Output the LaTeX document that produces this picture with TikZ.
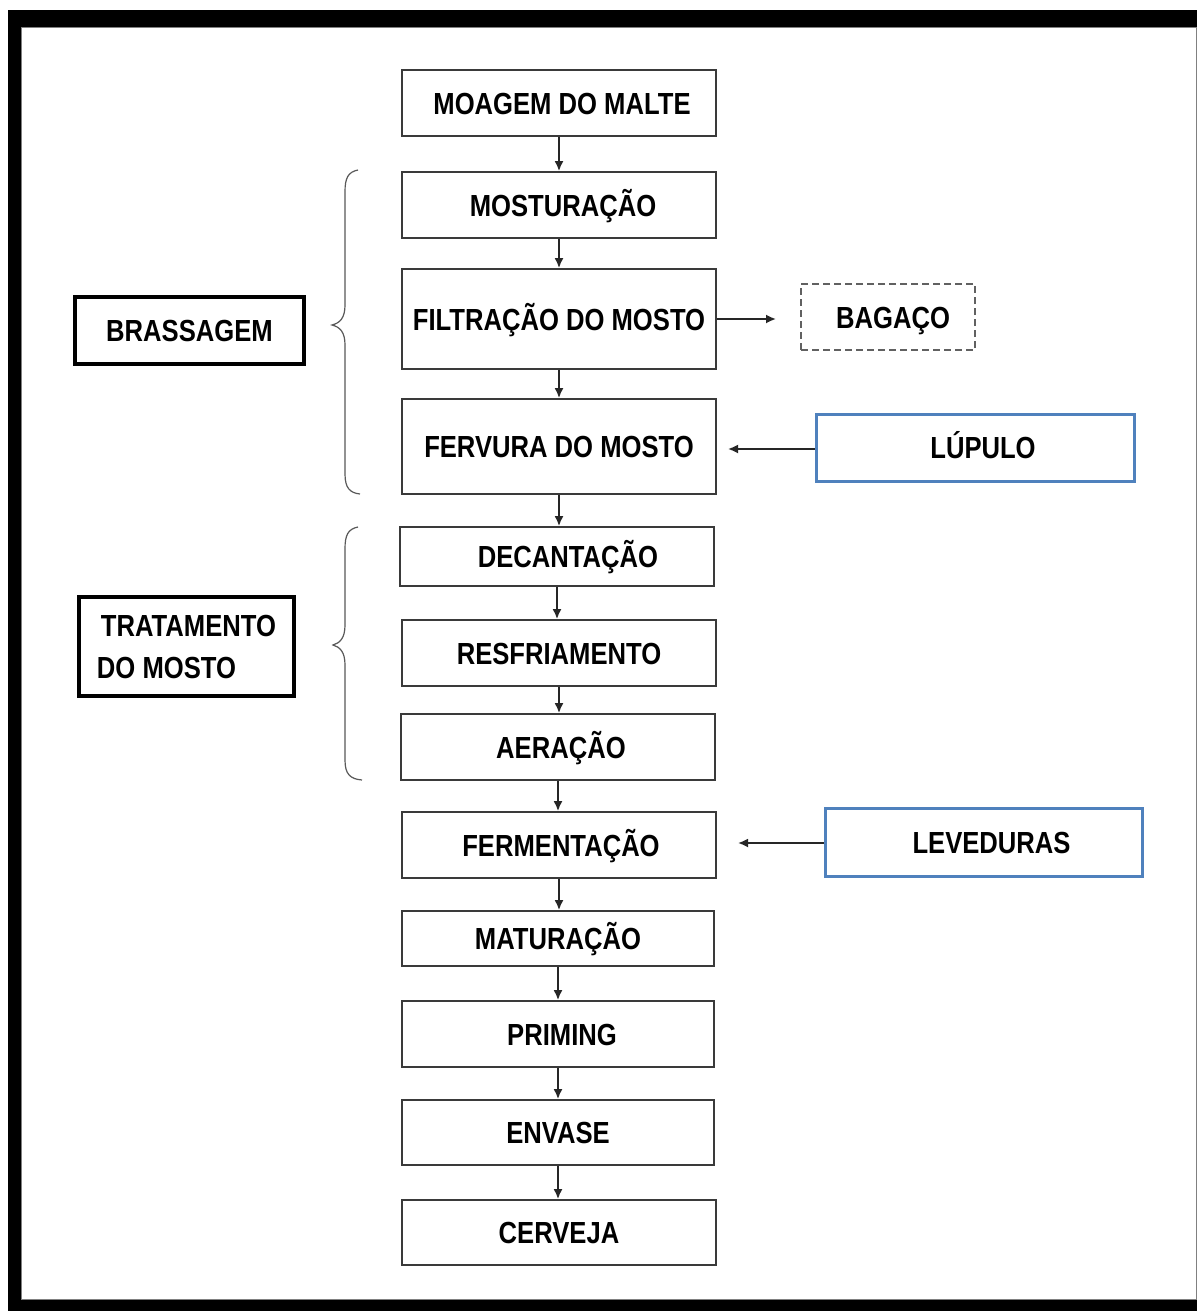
\documentclass[tikz,border=0pt]{standalone}
\usepackage{fontspec}
\setmainfont{Liberation Sans}[FakeStretch=0.84]
\usetikzlibrary{arrows.meta}
\definecolor{boxgray}{HTML}{3A3A3A}
\definecolor{bluebox}{HTML}{4F81BD}
\begin{document}
\begin{tikzpicture}[x=1pt,y=-1pt,
  txt/.style={font=\fontsize{30.5}{34}\selectfont\bfseries, text height=22pt, text depth=0pt, inner sep=0pt},
  proc/.style={txt, draw=boxgray, line width=1.8pt, fill=white},
  side/.style={txt, draw=bluebox, line width=3pt, fill=white},
  waste/.style={txt, draw=boxgray!80, line width=1.8pt, dash pattern=on 7pt off 4pt},
  group/.style={font=\fontsize{30.5}{42}\selectfont\bfseries, inner sep=0pt, draw=black, line width=4.5pt, fill=white},
  arr/.style={draw=black!85, line width=1.8pt, -{Latex[length=10pt,width=9pt]}},
  brace/.style={draw=gray!70!black, line width=1.2pt}]
\useasboundingbox (0,0) rectangle (1197,1311);
% frame
\fill[black] (8,10) rectangle (1197,1311);
\fill[white] (21,28) rectangle (1196,1299);
\draw[gray, line width=1pt] (21,28) rectangle (1196,1299);

% main chain
\node[proc, minimum width=314pt, minimum height=66pt] (moagem) at (559,103) {\hspace*{6pt}MOAGEM DO MALTE};
\node[proc, minimum width=314pt, minimum height=66pt] (mostur) at (559,205) {\hspace*{8pt}MOSTURAÇÃO};
\node[proc, minimum width=314pt, minimum height=100pt] (filtr) at (559,319) {FILTRAÇÃO DO MOSTO};
\node[proc, minimum width=314pt, minimum height=95pt] (ferv) at (559,446.5) {FERVURA DO MOSTO};
\node[proc, minimum width=314pt, minimum height=59pt] (decant) at (557,556.5) {\hspace*{22pt}DECANTAÇÃO};
\node[proc, minimum width=314pt, minimum height=66pt] (resfr) at (559,653) {RESFRIAMENTO};
\node[proc, minimum width=314pt, minimum height=66pt] (aer) at (558,747) {\hspace*{6pt}AERAÇÃO};
\node[proc, minimum width=314pt, minimum height=66pt] (ferm) at (559,845) {\hspace*{4pt}FERMENTAÇÃO};
\node[proc, minimum width=312pt, minimum height=55pt] (matur) at (558,938.5) {MATURAÇÃO};
\node[proc, minimum width=312pt, minimum height=66pt] (priming) at (558,1034) {\hspace*{8pt}PRIMING};
\node[proc, minimum width=312pt, minimum height=65pt] (envase) at (558,1132.5) {ENVASE};
\node[proc, minimum width=314pt, minimum height=65pt] (cerveja) at (559,1232.5) {CERVEJA};

% side inputs / outputs
\node[waste, minimum width=174pt, minimum height=66pt] (bagaco) at (888,317) {\hspace*{10pt}BAGAÇO};
\node[side, minimum width=318pt, minimum height=67pt] (lupulo) at (975,447.5) {\hspace*{16pt}LÚPULO};
\node[side, minimum width=317pt, minimum height=68pt] (leved) at (983.5,842) {\hspace*{16pt}LEVEDURAS};

% group labels
\node[group, minimum width=229pt, minimum height=67pt] (brass) at (189.5,330.5) {BRASSAGEM};
\node[group, minimum width=215pt, minimum height=99pt, align=left] (trat) at (186.5,646.5) {\hspace*{4pt}TRATAMENTO\\DO MOSTO};

% chain arrows
\foreach \a/\b in {moagem/mostur, mostur/filtr, filtr/ferv, ferv/decant, decant/resfr, resfr/aer, aer/ferm, ferm/matur, matur/priming, priming/envase, envase/cerveja}
  \draw[arr] (\a.south) -- (\a.south |- \b.north);

% side arrows
\coordinate (bagin) at (776,319);
\draw[arr] (filtr.east |- bagin) -- (bagin);
\coordinate (fervin) at (728,449);
\draw[arr] (lupulo.west |- fervin) -- (fervin);
\coordinate (fermin) at (738,843);
\draw[arr] (leved.west |- fermin) -- (fermin);

% braces
\draw[brace] (358,170) .. controls (348,172) and (345,178) .. (345,192)
  -- (345,305) .. controls (345,318) and (340,323) .. (332,325)
  .. controls (340,327) and (345,332) .. (345,345)
  -- (345,474) .. controls (345,488) and (350,493) .. (360,494);
\draw[brace] (358,527) .. controls (348,529) and (345,535) .. (345,549)
  -- (345,625) .. controls (345,638) and (340,643) .. (333,645)
  .. controls (340,647) and (345,652) .. (345,665)
  -- (345,760) .. controls (345,774) and (350,779) .. (362,780);
\end{tikzpicture}
\end{document}
